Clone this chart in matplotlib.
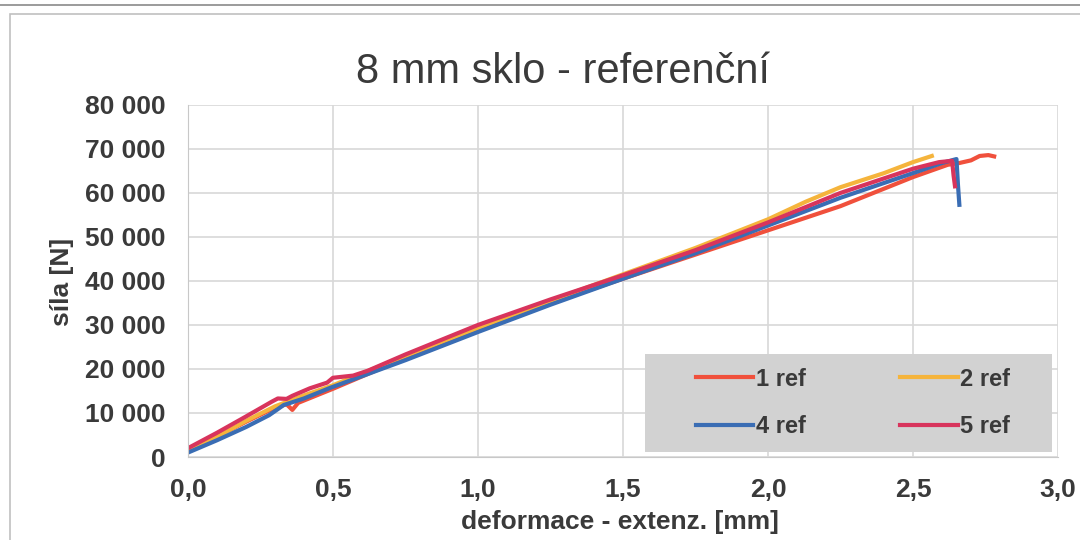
import matplotlib
matplotlib.use("Agg")
import matplotlib.pyplot as plt
from matplotlib.lines import Line2D
from matplotlib.patches import Rectangle

plt.rcParams['font.family'] = ['Liberation Sans', 'DejaVu Sans']

# data (deformation mm, force N)
x_1ref = [0.0, 0.1, 0.2, 0.3, 0.34, 0.36, 0.38, 0.5, 0.75, 1.0, 1.25, 1.5, 1.75,
          2.0, 2.25, 2.5, 2.62, 2.66, 2.70, 2.73, 2.76, 2.78]
y_1ref = [1500, 4600, 8000, 11200, 12000, 10700, 12300, 15500, 22500, 28800, 35000,
          40500, 46000, 51500, 57000, 63600, 66400, 66800, 67400, 68400, 68600, 68300]

x_2ref = [0.0, 0.1, 0.2, 0.3, 0.4, 0.5, 0.75, 1.0, 1.25, 1.5, 1.75, 2.0, 2.13,
          2.25, 2.4, 2.5, 2.565]
y_2ref = [1300, 4500, 8200, 11500, 14000, 16300, 23000, 29300, 35500, 41500, 47500,
          54000, 58000, 61300, 64500, 67000, 68400]

x_4ref = [0.0, 0.1, 0.2, 0.28, 0.33, 0.4, 0.49, 0.75, 1.0, 1.25, 1.5, 1.75, 2.0,
          2.25, 2.5, 2.6, 2.65, 2.655, 2.66]
y_4ref = [1000, 3800, 6800, 9500, 11800, 13300, 15700, 22000, 28400, 34600, 40500,
          46300, 52600, 58900, 64500, 66800, 67700, 62000, 57300]

x_5ref = [0.0, 0.1, 0.2, 0.29, 0.31, 0.34, 0.36, 0.42, 0.48, 0.5, 0.57, 0.62, 0.75,
          1.0, 1.25, 1.5, 1.75, 2.0, 2.25, 2.5, 2.59, 2.635, 2.64, 2.645]
y_5ref = [2000, 5500, 9200, 12600, 13300, 13200, 13900, 15600, 16900, 18000, 18500,
          19600, 23300, 30000, 35800, 41300, 47000, 53300, 60000, 65500, 67000, 67300,
          64000, 61500]

series = [("1 ref", x_1ref, y_1ref, "#f0503c"),
          ("2 ref", x_2ref, y_2ref, "#f5b43c"),
          ("4 ref", x_4ref, y_4ref, "#3a6db4"),
          ("5 ref", x_5ref, y_5ref, "#d8345c")]

x_ticks = [0.0, 0.5, 1.0, 1.5, 2.0, 2.5, 3.0]
x_ticklabels = ["0,0", "0,5", "1,0", "1,5", "2,0", "2,5", "3,0"]
y_ticks = [0, 10000, 20000, 30000, 40000, 50000, 60000, 70000, 80000]
y_ticklabels = ["0", "10 000", "20 000", "30 000", "40 000", "50 000",
                "60 000", "70 000", "80 000"]

txt = "#3a3a3a"

fig = plt.figure(figsize=(10.8, 5.4), dpi=100)
ax = fig.add_axes([0.174, 0.1537, 0.8056, 0.652])

lines = {}
for name, xs, ys, c in series:
    lines[name], = ax.plot(xs, ys, color=c, lw=3, label=name, solid_joinstyle='round')

ax.set_xlim(0, 3.0)
ax.set_ylim(0, 80000)
ax.set_xticks(x_ticks)
ax.set_xticklabels(x_ticklabels)
ax.set_yticks(y_ticks)
ax.set_yticklabels(y_ticklabels)
ax.tick_params(length=0, labelsize=19, colors=txt)
ax.tick_params(axis='x', pad=15)
ax.tick_params(axis='y', pad=16)
for lab in ax.get_xticklabels() + ax.get_yticklabels():
    lab.set_fontweight('bold')
ax.grid(True, color="#d8d8d8", lw=1.2)
ax.set_axisbelow(True)
for s in ax.spines.values():
    s.set_visible(False)
ax.spines['left'].set_visible(True)
ax.spines['left'].set_color("#c8c8c8")
ax.spines['bottom'].set_visible(True)
ax.spines['bottom'].set_color("#c8c8c8")

# gray legend box, legend itself without frame
ax.add_patch(Rectangle((645 / 1080, 1 - 452 / 540), 407 / 1080, 98 / 540,
                       transform=fig.transFigure, facecolor="#d2d2d2",
                       edgecolor="none", zorder=4))
order = ["1 ref", "4 ref", "2 ref", "5 ref"]
leg = ax.legend([lines[n] for n in order], order, loc='center',
                bbox_to_anchor=(853 / 1080, 1 - 403 / 540),
                bbox_transform=fig.transFigure, ncol=2, frameon=False,
                handlelength=2.45, handletextpad=0.1, columnspacing=4.0,
                labelspacing=1.05, borderpad=0,
                prop={'size': 17, 'weight': 'bold'})
leg.set_zorder(5)
for t in leg.get_texts():
    t.set_color(txt)

fig.text(0.521, 0.867, "8 mm sklo - referenční", ha='center', va='center',
         fontsize=30, color=txt)
fig.text(0.574, 0.033, "deformace - extenz. [mm]", ha='center', va='center',
         fontsize=19, fontweight='bold', color=txt)
fig.text(0.057, 0.478, "síla [N]", ha='center', va='center', rotation=90,
         fontsize=19, fontweight='bold', color=txt)

# scanned page frame
fig.add_artist(Rectangle((10 / 1080, -0.05), 1.2, 1 - 14 / 540 + 0.05,
                         transform=fig.transFigure, fill=False,
                         edgecolor="#c0c0c0", lw=1.2))
fig.add_artist(Line2D([0, 1], [1 - 5 / 540] * 2, transform=fig.transFigure,
                      color="#8a8a8a", lw=1.2))

fig.savefig("out.png", dpi=100)
